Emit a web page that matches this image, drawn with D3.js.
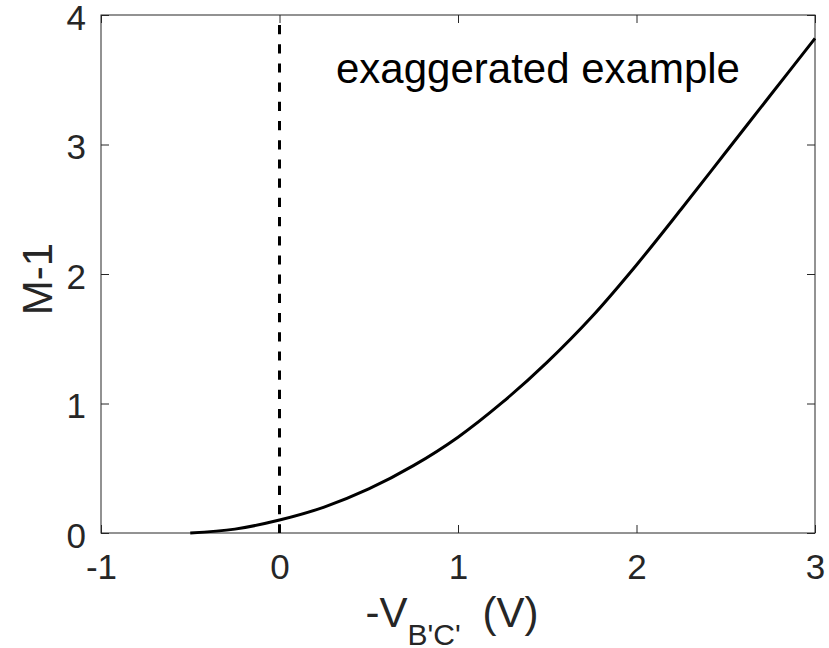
<!DOCTYPE html>
<html>
<head>
<meta charset="utf-8">
<script src="https://cdn.jsdelivr.net/npm/d3@7"></script>
<style>
  body { margin: 0; background: #fff; }
  svg { display: block; font-family: "Liberation Sans", Arial, Helvetica, sans-serif; }
</style>
</head>
<body>
<div id="chart"></div>
<script>
// curve values
const vbc = [-0.5, -0.25, 0, 0.25, 0.5, 0.75, 1, 1.25, 1.5, 1.75, 2, 2.25, 2.5, 2.75, 3];
const mMinus1 = [0, 0.03, 0.10, 0.20, 0.34, 0.52, 0.74, 1.01, 1.32, 1.67, 2.07, 2.50, 2.94, 3.38, 3.82];
const xTicks = [-1, 0, 1, 2, 3];
const yTicks = [0, 1, 2, 3, 4];
const markerX = 0;

const svg = d3.select("#chart").append("svg")
    .attr("width", 829)
    .attr("height", 648);

const box = { left: 101, right: 815, top: 15, bottom: 533 };

const x = d3.scaleLinear().domain([-1, 3]).range([box.left, box.right]);
const y = d3.scaleLinear().domain([0, 4]).range([box.bottom, box.top]);

const axisColor = "#262626";
const fmt = d => String(d); // plain hyphen, no decimals

// bottom axis with labels
const gx = svg.append("g")
    .attr("transform", `translate(0,${box.bottom})`)
    .call(d3.axisBottom(x).tickValues(xTicks).tickFormat(fmt).tickSizeInner(-8).tickSizeOuter(0).tickPadding(21));

// left axis with labels
const gy = svg.append("g")
    .attr("transform", `translate(${box.left},0)`)
    .call(d3.axisLeft(y).tickValues(yTicks).tickFormat(fmt).tickSizeInner(-8).tickSizeOuter(0).tickPadding(15));

// top and right: ticks only (box)
const gt = svg.append("g")
    .attr("transform", `translate(0,${box.top})`)
    .call(d3.axisTop(x).tickValues(xTicks).tickSizeInner(-8).tickSizeOuter(0).tickFormat(""));
const gr = svg.append("g")
    .attr("transform", `translate(${box.right},0)`)
    .call(d3.axisRight(y).tickValues(yTicks).tickSizeInner(-8).tickSizeOuter(0).tickFormat(""));

[gx, gy, gt, gr].forEach(g => {
    g.select(".domain").remove();
    g.selectAll("line").attr("stroke", axisColor);
    g.selectAll("text")
        .attr("fill", axisColor)
        .style("font-size", "35px")
        .style("font-family", "'Liberation Sans', Arial, Helvetica, sans-serif");
});
gy.selectAll("text").attr("dy", "0.4em");

svg.append("rect")
    .attr("x", box.left)
    .attr("y", box.top)
    .attr("width", box.right - box.left)
    .attr("height", box.bottom - box.top)
    .attr("fill", "none")
    .attr("stroke", axisColor)
    .attr("stroke-width", 1);

// dashed marker at V = 0
svg.append("line")
    .attr("x1", x(markerX)).attr("x2", x(markerX))
    .attr("y1", y(4)).attr("y2", y(0))
    .attr("stroke", "#000")
    .attr("stroke-width", 3)
    .attr("stroke-dasharray", "9.2,10")
    .attr("stroke-dashoffset", 9.2);

// curve
const pts = vbc.map((v, i) => [v, mMinus1[i]]);
const line = d3.line()
    .x(d => x(d[0]))
    .y(d => y(d[1]))
    .curve(d3.curveCatmullRom);

svg.append("path")
    .datum(pts)
    .attr("d", line)
    .attr("fill", "none")
    .attr("stroke", "#000")
    .attr("stroke-width", 3);

// annotation
svg.append("text")
    .attr("x", 336)
    .attr("y", 83)
    .attr("fill", "#000")
    .style("font-size", "42px")
    .text("exaggerated example");

// x label
const xl = svg.append("text")
    .attr("x", 452)
    .attr("y", 627)
    .attr("text-anchor", "middle")
    .attr("fill", axisColor)
    .style("font-size", "42px");
xl.append("tspan").text("-V");
xl.append("tspan").attr("dy", 18).style("font-size", "30px").text("B'C'");
xl.append("tspan").attr("dy", -18).attr("dx", 10).text(" (V)");

// y label
svg.append("text")
    .attr("transform", "translate(52,279) rotate(-90)")
    .attr("text-anchor", "middle")
    .attr("fill", axisColor)
    .style("font-size", "42px")
    .text("M-1");
</script>
</body>
</html>
